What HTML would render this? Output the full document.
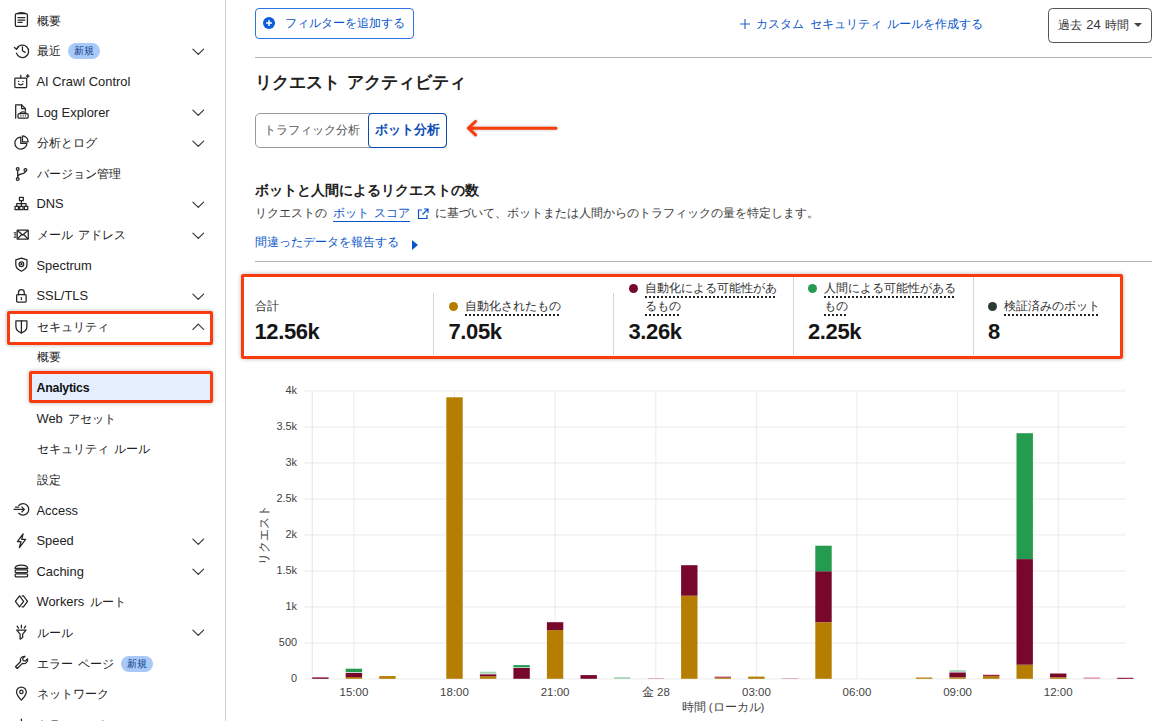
<!DOCTYPE html>
<html lang="ja"><head><meta charset="utf-8"><title>Security Analytics</title>
<style>
*{box-sizing:border-box;margin:0;padding:0}
html,body{width:1176px;height:721px;overflow:hidden;background:#fff}
body{font-family:"Liberation Sans",sans-serif;color:#313131;position:relative;font-size:12.4px;word-spacing:2.2px}
.l{font-size:12.9px;word-spacing:0}
#side{position:absolute;left:0;top:0;width:226px;height:721px;border-right:1.4px solid #d0d0d0;background:#fff}
.row{position:absolute;left:0;width:225px;height:30px;line-height:30px;white-space:nowrap}
.row .ic{position:absolute;left:13.8px;top:6.8px;width:14.8px;height:14.8px;fill:none;stroke:#262626;stroke-width:1.2;stroke-linecap:round;stroke-linejoin:round;overflow:visible}
.row .t{position:absolute;left:36.5px;top:0;color:#222}
.row .ch{position:absolute;left:191.5px;top:11.5px;width:12.5px;height:7.5px;fill:none;stroke:#333;stroke-width:1.3;stroke-linecap:round;stroke-linejoin:round;overflow:visible}
.row .bd{display:inline-block;vertical-align:top;margin:7px 0 0 7px;height:16px;line-height:16px;border-radius:8px;background:#a9c9f8;color:#0c3a87;font-size:10px;padding:0 6px}
.row.act{left:30px;width:180px;background:#e5eefc}
.row.act .t{left:6.500px;font-weight:bold;color:#111}
.row.act .t .l{font-size:12.400px;letter-spacing:-.25px}
.rb{position:absolute;border:3px solid #fa3c0c;border-radius:2px;box-shadow:0 0 4px rgba(0,0,0,.3)}
#main{position:absolute;left:0;top:0;width:1176px;height:721px}
.abs{position:absolute;white-space:nowrap}
.hr{position:absolute;left:255px;width:897px;height:1.200px;background:#b4b4b4}
.blue{color:#0a55c9}
svg text.ax{word-spacing:0;font-family:"Liberation Sans",sans-serif;font-size:11.500px;fill:#3f3f3f}
.stat .lab{position:absolute;font-size:12.400px;color:#313131;white-space:nowrap;line-height:18px}
.stat .lab u{text-decoration:underline dotted #222;text-decoration-thickness:1.600px;text-underline-offset:3.500px}
.stat .num{position:absolute;font-size:22px;line-height:26px;font-weight:bold;color:#151515;letter-spacing:-.4px;white-space:nowrap}
.dot{position:absolute;width:9px;height:9px;border-radius:50%}
.vl{position:absolute;width:1px;background:#d6d6d6;top:293px;height:62px}
</style></head><body>
<div id="side">
<div class="row" style="top:5.7px">
<svg class="ic" viewBox="0 0 14 14"><rect x="1.3" y="1.6" width="11.4" height="12" rx="1.2"/><path d="M3.2 1.6c0-1.200 7.600-1.200 7.600 0"/><path d="M3.800 5.400h6.400M3.800 7.600h6.400M3.800 9.800h4"/></svg>
<span class="t">概要</span>
</div>
<div class="row" style="top:36.3px">
<svg class="ic" viewBox="0 0 14 14"><path d="M2.700 5.200A5.900 5.900 0 1 1 2.300 9.600"/><path d="M.4 4.300l2 1.600 1.600-2"/><path d="M8 3.600v3.800l2.500 1.500"/></svg>
<span class="t">最近<span class="bd">新規</span></span>
<svg class="ch" viewBox="0 0 14 8"><path d="M1 1l6 6 6-6"/></svg>
</div>
<div class="row" style="top:66.9px">
<svg class="ic" viewBox="0 0 14 14"><rect x=".8" y="3.800" width="11.200" height="9" rx=".8"/><path d="M6.400 3.800V1.200M4.300 7h.1M8.500 7h.1M4.400 9.400c1.200 1.100 2.800 1.100 4 0M13 .6v2.800M11.600 2h2.800"/></svg>
<span class="t"><span class="l">AI Crawl Control</span></span>
</div>
<div class="row" style="top:97.5px">
<svg class="ic" viewBox="0 0 14 14"><path d="M1.600 13.400V.8h5.600l3.600 3.600v2.400"/><path d="M7.200.8v3.600h3.600"/><rect x="3.800" y="9.200" width="9.600" height="4.200" rx="1.200"/><path d="M5.800 9.200c0-2.400 5.600-2.400 5.600 0M6.400 11.300h.1M8.600 11.300h.1M10.800 11.300h.1"/></svg>
<span class="t"><span class="l">Log Explorer</span></span>
<svg class="ch" viewBox="0 0 14 8"><path d="M1 1l6 6 6-6"/></svg>
</div>
<div class="row" style="top:128.1px">
<svg class="ic" viewBox="0 0 14 14"><path d="M6.400 2A5.700 5.700 0 1 0 12.200 8H6.400z"/><path d="M8 .8v5.600h5.400A5.600 5.600 0 0 0 8 .8z"/></svg>
<span class="t">分析とログ</span>
<svg class="ch" viewBox="0 0 14 8"><path d="M1 1l6 6 6-6"/></svg>
</div>
<div class="row" style="top:158.8px">
<svg class="ic" viewBox="0 0 14 14"><circle cx="3.5" cy="2.8" r="1.3"/><circle cx="3.5" cy="12.2" r="1.3"/><circle cx="10.8" cy="3.8" r="1.3"/><path d="M3.5 4.1v6.8M10.8 5.1c0 3-7.3 1.6-7.3 4.8"/></svg>
<span class="t">バージョン管理</span>
</div>
<div class="row" style="top:189.4px">
<svg class="ic" viewBox="0 0 14 14"><rect x="5.2" y="1.2" width="3.6" height="3.2"/><rect x="1" y="9.8" width="3.2" height="3.2"/><rect x="5.4" y="9.8" width="3.2" height="3.2"/><rect x="9.8" y="9.8" width="3.2" height="3.2"/><path d="M7 4.4v5.4M2.6 9.8V7.2h8.8v2.6"/></svg>
<span class="t"><span class="l">DNS</span></span>
<svg class="ch" viewBox="0 0 14 8"><path d="M1 1l6 6 6-6"/></svg>
</div>
<div class="row" style="top:220.0px">
<svg class="ic" viewBox="0 0 14 14"><rect x="3" y="3" width="10.5" height="8.5" rx=".6"/><path d="M3.2 3.4l5 4.2 5-4.2M3.2 11.2l3.6-3.6M13.2 11.2L9.6 7.6M.2 5.5h1.6M.8 7.5h1M.2 9.5h1.6"/></svg>
<span class="t">メール アドレス</span>
<svg class="ch" viewBox="0 0 14 8"><path d="M1 1l6 6 6-6"/></svg>
</div>
<div class="row" style="top:250.6px">
<svg class="ic" viewBox="0 0 14 14"><path d="M7 1l5.3 1.8v4.4c0 3-2.3 5-5.3 6.3C4 12.2 1.700 10.200 1.700 7.200V2.800z"/><circle cx="7" cy="6.800" r="2.200"/><circle cx="7" cy="6.800" r=".5"/></svg>
<span class="t"><span class="l">Spectrum</span></span>
</div>
<div class="row" style="top:281.2px">
<svg class="ic" viewBox="0 0 14 14"><rect x="2.500" y="6.300" width="9" height="7" rx=".8"/><path d="M4.300 6.300V4.200a2.700 2.700 0 0 1 5.400 0v2.100M7 9.200v1.600"/></svg>
<span class="t"><span class="l">SSL/TLS</span></span>
<svg class="ch" viewBox="0 0 14 8"><path d="M1 1l6 6 6-6"/></svg>
</div>
<div class="row" style="top:311.8px">
<svg class="ic" viewBox="0 0 14 14"><path d="M1.800 1.800h10.400v5.200c0 3.200-2.300 5-5.200 6.200-2.900-1.200-5.200-3-5.200-6.200z"/><path d="M7 1.800v11.400"/></svg>
<span class="t">セキュリティ</span>
<svg class="ch" viewBox="0 0 14 8"><path d="M1 7l6-6 6 6"/></svg>
</div>
<div class="row" style="top:342.4px">
<span class="t">概要</span>
</div>
<div class="row act" style="top:373.0px">
<span class="t"><span class="l">Analytics</span></span>
</div>
<div class="row" style="top:403.6px">
<span class="t"><span class="l">Web</span> アセット</span>
</div>
<div class="row" style="top:434.2px">
<span class="t">セキュリティ ルール</span>
</div>
<div class="row" style="top:464.8px">
<span class="t">設定</span>
</div>
<div class="row" style="top:495.5px">
<svg class="ic" viewBox="0 0 14 14"><path d="M4.600 3.300a5.400 5.400 0 1 1 0 7.400"/><path d="M0 7h9.600M7.400 4.600L9.800 7 7.400 9.400M1.400 4.800h3"/></svg>
<span class="t"><span class="l">Access</span></span>
</div>
<div class="row" style="top:526.1px">
<svg class="ic" viewBox="0 0 14 14"><path d="M8.600.8L3.200 8.200h3.400l-1.500 5.600L11 6H7.300z"/></svg>
<span class="t"><span class="l">Speed</span></span>
<svg class="ch" viewBox="0 0 14 8"><path d="M1 1l6 6 6-6"/></svg>
</div>
<div class="row" style="top:556.7px">
<svg class="ic" viewBox="0 0 14 14"><path d="M1 5.200c0-4.200 12-4.200 12 0z"/><rect x="1" y="6.400" width="12" height="2.800" rx="1.300"/><rect x="1" y="10.300" width="12" height="2.800" rx="1.300"/></svg>
<span class="t"><span class="l">Caching</span></span>
<svg class="ch" viewBox="0 0 14 8"><path d="M1 1l6 6 6-6"/></svg>
</div>
<div class="row" style="top:587.3px">
<svg class="ic" viewBox="0 0 14 14"><path d="M5.2 1.800L1.300 7l3.900 5.200L9.100 7zM7.700 1.800h1.200L12.800 7l-3.900 5.200H7.700"/></svg>
<span class="t"><span class="l">Workers</span> ルート</span>
</div>
<div class="row" style="top:617.9px">
<svg class="ic" viewBox="0 0 14 14"><path d="M2.600 4.800h8.800L8.200 8.600v3.200L5.800 13.400V8.600zM7 .2v2.400M3 1l1.200 2M11 1L9.800 3"/></svg>
<span class="t">ルール</span>
<svg class="ch" viewBox="0 0 14 8"><path d="M1 1l6 6 6-6"/></svg>
</div>
<div class="row" style="top:648.5px">
<svg class="ic" viewBox="0 0 14 14"><path d="M9.600 1.200a3.600 3.600 0 0 0-3.300 5L1.400 11.100l1.700 1.700 4.900-4.900a3.600 3.600 0 0 0 4.800-4.300l-2.200 2.200-1.900-.5-.5-1.900 2.200-2.200z"/></svg>
<span class="t">エラー ページ<span class="bd">新規</span></span>
</div>
<div class="row" style="top:679.1px">
<svg class="ic" viewBox="0 0 14 14"><path d="M7 13.400C4 10.200 2.400 8 2.400 5.600a4.600 4.600 0 0 1 9.200 0c0 2.400-1.600 4.600-4.600 7.800z"/><circle cx="7" cy="5.600" r="1.600"/></svg>
<span class="t">ネットワーク</span>
</div>
<div class="row" style="top:709.7px">
<svg class="ic" viewBox="0 0 14 14"><path d="M1 12.500h12M3 12.500V7M7 12.500V3M11 12.500V5.500"/></svg>
<span class="t">トラフィック</span>
</div>
</div>
<div id="main">
<!-- top controls -->
<div class="abs blue" style="left:255px;top:8.300px;width:158.500px;height:30.500px;border:1.300px solid #2d74e6;border-radius:4px;line-height:28px">
<svg style="position:absolute;left:7.300px;top:7.700px" width="12" height="12" viewBox="0 0 12 12"><circle cx="6" cy="6" r="6" fill="#0b5ddc"/><path d="M6 3v6M3 6h6" stroke="#fff" stroke-width="1.500"/></svg>
<span style="position:absolute;left:28.500px;top:0">フィルターを追加する</span></div>
<div class="abs blue" style="left:739px;top:9.800px;line-height:28px"><svg style="position:absolute;left:.5px;top:9.500px" width="10" height="10" viewBox="0 0 10 10"><path d="M5 0v10M0 5h10" stroke="#1f62cf" stroke-width="1.100"/></svg><span style="margin-left:17px">カスタム セキュリティ ルールを作成する</span></div>
<div class="abs" style="left:1047.800px;top:8px;width:104px;height:35px;border:1.300px solid #555;border-radius:4.500px;line-height:31.500px;color:#333"><span style="position:absolute;left:9.500px;word-spacing:.6px">過去 <span class="l">24</span> 時間</span><span style="position:absolute;left:85.500px;top:14px;width:0;height:0;border-left:4px solid transparent;border-right:4px solid transparent;border-top:4.500px solid #444"></span></div>
<div class="hr" style="top:57px"></div>
<div class="abs" style="left:255px;top:68px;font-size:17.400px;font-weight:bold;color:#222;line-height:28px">リクエスト アクティビティ</div>
<!-- tabs -->
<div class="abs" style="left:255px;top:112.500px;width:191.500px;height:35px;border:1.300px solid #9a9a9a;border-radius:5px"></div>
<div class="abs" style="left:263.500px;top:112.500px;line-height:35px;color:#555">トラフィック分析</div>
<div class="abs" style="left:367.500px;top:112.500px;width:79px;height:35px;border:1.600px solid #0b4bb5;border-radius:4px;line-height:32px;text-align:center;font-size:12.600px;font-weight:bold;color:#0b4bb5">ボット分析</div>
<svg class="abs" style="left:462px;top:116px;filter:drop-shadow(0 0 1.5px rgba(0,0,0,.25))" width="100" height="24" viewBox="0 0 100 24"><path d="M94 12.200H7M13.500 5.500l-7 6.700 7 6.700" fill="none" stroke="#fa3c0c" stroke-width="3" stroke-linecap="round" stroke-linejoin="round"/></svg>
<!-- heading -->
<div class="abs" style="left:255px;top:179px;font-size:14.300px;font-weight:bold;color:#222;line-height:22px">ボットと人間によるリクエストの数</div>
<div class="abs" style="left:255px;top:203px;color:#3a3a3a;line-height:20px">リクエストの <span class="blue" style="border-bottom:1px solid #0a55c9;padding-bottom:1px">ボット スコア</span> <svg style="vertical-align:-2.500px;margin:0 .2px 0 1px" width="12" height="12" viewBox="0 0 12 12"><path d="M5 2H1.500v8.500H10V7M7 1h4v4M11 1L5.500 6.500" fill="none" stroke="#0a55c9" stroke-width="1.200"/></svg> に基づいて、ボットまたは人間からのトラフィックの量を特定します。</div>
<div class="abs blue" style="left:255px;top:232px;line-height:20px">間違ったデータを報告する<span style="position:absolute;left:156.500px;top:7.500px;width:0;height:0;border-top:5px solid transparent;border-bottom:5px solid transparent;border-left:6px solid #0a55c9"></span></div>
<div class="hr" style="top:261px"></div>
<!-- stats -->
<div class="stat">
<div class="lab" style="left:255px;top:297px">合計</div><div class="num" style="left:254.500px;top:319px">12.56k</div>
<div class="vl" style="left:433px"></div>
<div class="dot" style="left:449px;top:302px;background:#b57e00"></div><div class="lab" style="left:465px;top:297px"><u>自動化されたもの</u></div><div class="num" style="left:448.500px;top:319px">7.05k</div>
<div class="vl" style="left:613px"></div>
<div class="dot" style="left:629px;top:284px;background:#78082b"></div><div class="lab" style="left:645px;top:279px"><u>自動化による可能性があ<br>るもの</u></div><div class="num" style="left:628.500px;top:319px">3.26k</div>
<div class="vl" style="left:793px;top:276px;height:79px"></div>
<div class="dot" style="left:808px;top:284px;background:#259b4f"></div><div class="lab" style="left:824px;top:279px"><u>人間による可能性がある<br>もの</u></div><div class="num" style="left:808px;top:319px">2.25k</div>
<div class="vl" style="left:973px;top:276px;height:79px"></div>
<div class="dot" style="left:988px;top:302px;background:#2d3a34"></div><div class="lab" style="left:1004px;top:297px"><u>検証済みのボット</u></div><div class="num" style="left:988px;top:319px">8</div>
</div>
<!-- chart -->
<svg class="abs" style="left:0;top:0" width="1176" height="721" viewBox="0 0 1176 721">
<line x1="304.3" x2="1125.8" y1="678.8" y2="678.8" stroke="#efefef" stroke-width="1.3"/>
<line x1="304.3" x2="1125.8" y1="642.8" y2="642.8" stroke="#efefef" stroke-width="1.3"/>
<line x1="304.3" x2="1125.8" y1="606.8" y2="606.8" stroke="#efefef" stroke-width="1.3"/>
<line x1="304.3" x2="1125.8" y1="570.8" y2="570.8" stroke="#efefef" stroke-width="1.3"/>
<line x1="304.3" x2="1125.8" y1="534.8" y2="534.8" stroke="#efefef" stroke-width="1.3"/>
<line x1="304.3" x2="1125.8" y1="498.8" y2="498.8" stroke="#efefef" stroke-width="1.3"/>
<line x1="304.3" x2="1125.8" y1="462.8" y2="462.8" stroke="#efefef" stroke-width="1.3"/>
<line x1="304.3" x2="1125.8" y1="426.8" y2="426.8" stroke="#efefef" stroke-width="1.3"/>
<line x1="304.3" x2="1125.8" y1="390.8" y2="390.8" stroke="#efefef" stroke-width="1.3"/>
<line x1="353.9" x2="353.9" y1="390.8" y2="678.8" stroke="#e9e9e9" stroke-width="0.9"/>
<line x1="454.5" x2="454.5" y1="390.8" y2="678.8" stroke="#e9e9e9" stroke-width="0.9"/>
<line x1="555.1" x2="555.1" y1="390.8" y2="678.8" stroke="#e9e9e9" stroke-width="0.9"/>
<line x1="655.8" x2="655.8" y1="390.8" y2="678.8" stroke="#e9e9e9" stroke-width="0.9"/>
<line x1="756.4" x2="756.4" y1="390.8" y2="678.8" stroke="#e9e9e9" stroke-width="0.9"/>
<line x1="857.0" x2="857.0" y1="390.8" y2="678.8" stroke="#e9e9e9" stroke-width="0.9"/>
<line x1="957.6" x2="957.6" y1="390.8" y2="678.8" stroke="#e9e9e9" stroke-width="0.9"/>
<line x1="1058.2" x2="1058.2" y1="390.8" y2="678.8" stroke="#e9e9e9" stroke-width="0.9"/>
<line x1="312.2" x2="312.2" y1="390.8" y2="678.8" stroke="#e4e4e4" stroke-width="1"/>
<rect x="312.2" y="677.4" width="16.4" height="1.4" fill="#78082b"/>
<rect x="345.7" y="677.2" width="16.4" height="1.6" fill="#b57e00"/>
<rect x="345.7" y="672.8" width="16.4" height="4.5" fill="#78082b"/>
<rect x="345.7" y="672.2" width="16.4" height="0.6" fill="#ffffff"/>
<rect x="345.7" y="668.7" width="16.4" height="3.5" fill="#259b4f"/>
<rect x="379.2" y="676.1" width="16.4" height="2.7" fill="#b57e00"/>
<rect x="446.3" y="397.3" width="16.4" height="281.5" fill="#b57e00"/>
<rect x="479.9" y="676.2" width="16.4" height="2.6" fill="#b57e00"/>
<rect x="479.9" y="674.2" width="16.4" height="2.0" fill="#78082b"/>
<rect x="479.9" y="673.6" width="16.4" height="0.6" fill="#ffffff"/>
<rect x="479.9" y="671.7" width="16.4" height="1.9" fill="#9fd3b2"/>
<rect x="513.4" y="668.0" width="16.4" height="10.8" fill="#78082b"/>
<rect x="513.4" y="667.4" width="16.4" height="0.6" fill="#ffffff"/>
<rect x="513.4" y="665.1" width="16.4" height="2.3" fill="#259b4f"/>
<rect x="546.9" y="630.1" width="16.4" height="48.7" fill="#b57e00"/>
<rect x="546.9" y="622.2" width="16.4" height="7.9" fill="#78082b"/>
<rect x="580.5" y="675.1" width="16.4" height="3.7" fill="#78082b"/>
<rect x="614.0" y="677.2" width="16.4" height="1.6" fill="#9fd3b2"/>
<rect x="647.6" y="678.1" width="16.4" height="0.7" fill="#dc93a8"/>
<rect x="681.1" y="595.7" width="16.4" height="83.1" fill="#b57e00"/>
<rect x="681.1" y="565.2" width="16.4" height="30.5" fill="#78082b"/>
<rect x="714.6" y="677.5" width="16.4" height="1.3" fill="#b57e00"/>
<rect x="714.6" y="676.8" width="16.4" height="0.7" fill="#78082b"/>
<rect x="714.6" y="676.4" width="16.4" height="0.4" fill="#dc93a8"/>
<rect x="748.2" y="676.6" width="16.4" height="2.2" fill="#b57e00"/>
<rect x="781.7" y="678.1" width="16.4" height="0.7" fill="#dc93a8"/>
<rect x="815.3" y="622.3" width="16.4" height="56.5" fill="#b57e00"/>
<rect x="815.3" y="571.2" width="16.4" height="51.0" fill="#78082b"/>
<rect x="815.3" y="545.7" width="16.4" height="25.6" fill="#259b4f"/>
<rect x="915.9" y="677.5" width="16.4" height="1.3" fill="#b57e00"/>
<rect x="949.4" y="677.4" width="16.4" height="1.4" fill="#b57e00"/>
<rect x="949.4" y="672.3" width="16.4" height="5.0" fill="#78082b"/>
<rect x="949.4" y="671.9" width="16.4" height="0.4" fill="#ffffff"/>
<rect x="949.4" y="670.2" width="16.4" height="1.7" fill="#9fd3b2"/>
<rect x="983.0" y="676.1" width="16.4" height="2.7" fill="#b57e00"/>
<rect x="983.0" y="675.1" width="16.4" height="1.0" fill="#78082b"/>
<rect x="983.0" y="674.5" width="16.4" height="0.6" fill="#dc93a8"/>
<rect x="1016.5" y="664.7" width="16.4" height="14.1" fill="#b57e00"/>
<rect x="1016.5" y="559.1" width="16.4" height="105.6" fill="#78082b"/>
<rect x="1016.5" y="433.2" width="16.4" height="125.9" fill="#259b4f"/>
<rect x="1050.0" y="677.4" width="16.4" height="1.4" fill="#b57e00"/>
<rect x="1050.0" y="673.5" width="16.4" height="3.8" fill="#78082b"/>
<rect x="1083.6" y="677.4" width="16.4" height="1.4" fill="#dc93a8"/>
<rect x="1117.1" y="677.8" width="16.4" height="1.0" fill="#78082b"/>
<text x="297" y="681.8" text-anchor="end" class="ax" style="font-size:10.9px">0</text>
<text x="297" y="645.8" text-anchor="end" class="ax" style="font-size:10.9px">500</text>
<text x="297" y="609.8" text-anchor="end" class="ax" style="font-size:10.9px">1k</text>
<text x="297" y="573.8" text-anchor="end" class="ax" style="font-size:10.9px">1.5k</text>
<text x="297" y="537.8" text-anchor="end" class="ax" style="font-size:10.9px">2k</text>
<text x="297" y="501.8" text-anchor="end" class="ax" style="font-size:10.9px">2.5k</text>
<text x="297" y="465.8" text-anchor="end" class="ax" style="font-size:10.9px">3k</text>
<text x="297" y="429.8" text-anchor="end" class="ax" style="font-size:10.9px">3.5k</text>
<text x="297" y="393.8" text-anchor="end" class="ax" style="font-size:10.9px">4k</text>
<text x="353.9" y="696" text-anchor="middle" class="ax">15:00</text>
<text x="454.5" y="696" text-anchor="middle" class="ax">18:00</text>
<text x="555.1" y="696" text-anchor="middle" class="ax">21:00</text>
<text x="655.8" y="696" text-anchor="middle" class="ax">金 28</text>
<text x="756.4" y="696" text-anchor="middle" class="ax">03:00</text>
<text x="857.0" y="696" text-anchor="middle" class="ax">06:00</text>
<text x="957.6" y="696" text-anchor="middle" class="ax">09:00</text>
<text x="1058.2" y="696" text-anchor="middle" class="ax">12:00</text>
<text x="723" y="711" text-anchor="middle" class="ax">時間 (ローカル)</text>
<text transform="translate(268,535) rotate(-90)" text-anchor="middle" class="ax">リクエスト</text>
</svg>
<!-- red highlight boxes -->
<div class="rb" style="left:240.600px;top:273.700px;width:882px;height:85.200px"></div>
<div class="rb" style="left:6.500px;top:311px;width:206.800px;height:33.500px"></div>
<div class="rb" style="left:29.200px;top:371.200px;width:183.700px;height:32.100px"></div>
</div>
</body></html>
